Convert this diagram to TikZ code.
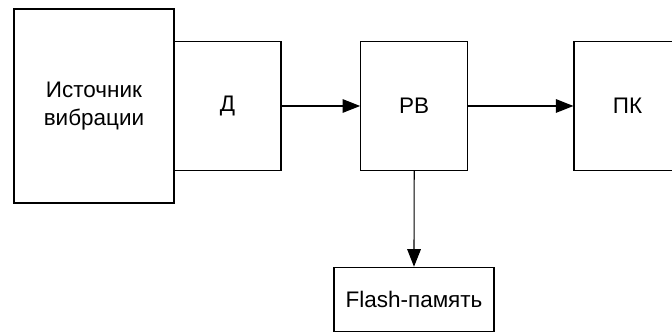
\documentclass[tikz,border=0pt]{standalone}
\usepackage{fontspec}
\setmainfont{Liberation Sans}
\usetikzlibrary{arrows.meta, positioning}

\begin{document}
\begin{tikzpicture}[
    blk/.style={draw, line width=0.8pt, align=center, inner sep=0pt,
        font=\fontsize{16}{20}\selectfont},
    arrow/.style={-{Triangle[length=4.4mm, width=3.4mm]}, line width=0.8pt}
]
    \useasboundingbox (0,0) rectangle (16.8,8.325);

    \node[blk, minimum width=4cm, minimum height=4.85cm] (src) at (2.35, 5.675) {Источник\\вибрации};
    \node[blk, minimum width=2.675cm, minimum height=3.23cm] (sens) at (5.6875, 5.675) {Д};
    \node[blk, minimum width=2.675cm, minimum height=3.23cm] (rv) at (10.355, 5.675) {РВ};
    \node[blk, minimum width=2.675cm, minimum height=3.23cm] (pc) at (15.6875, 5.675) {ПК};
    \node[blk, minimum width=4cm, minimum height=1.61cm] (flash) at (10.35, 0.8375) {Flash-память};

    % связи
    \draw[arrow] (sens.east) -- (rv.west);
    \draw[arrow] (rv.east) -- (pc.west);
    \draw[arrow] (rv.south) -- (flash.north);
\end{tikzpicture}
\end{document}
